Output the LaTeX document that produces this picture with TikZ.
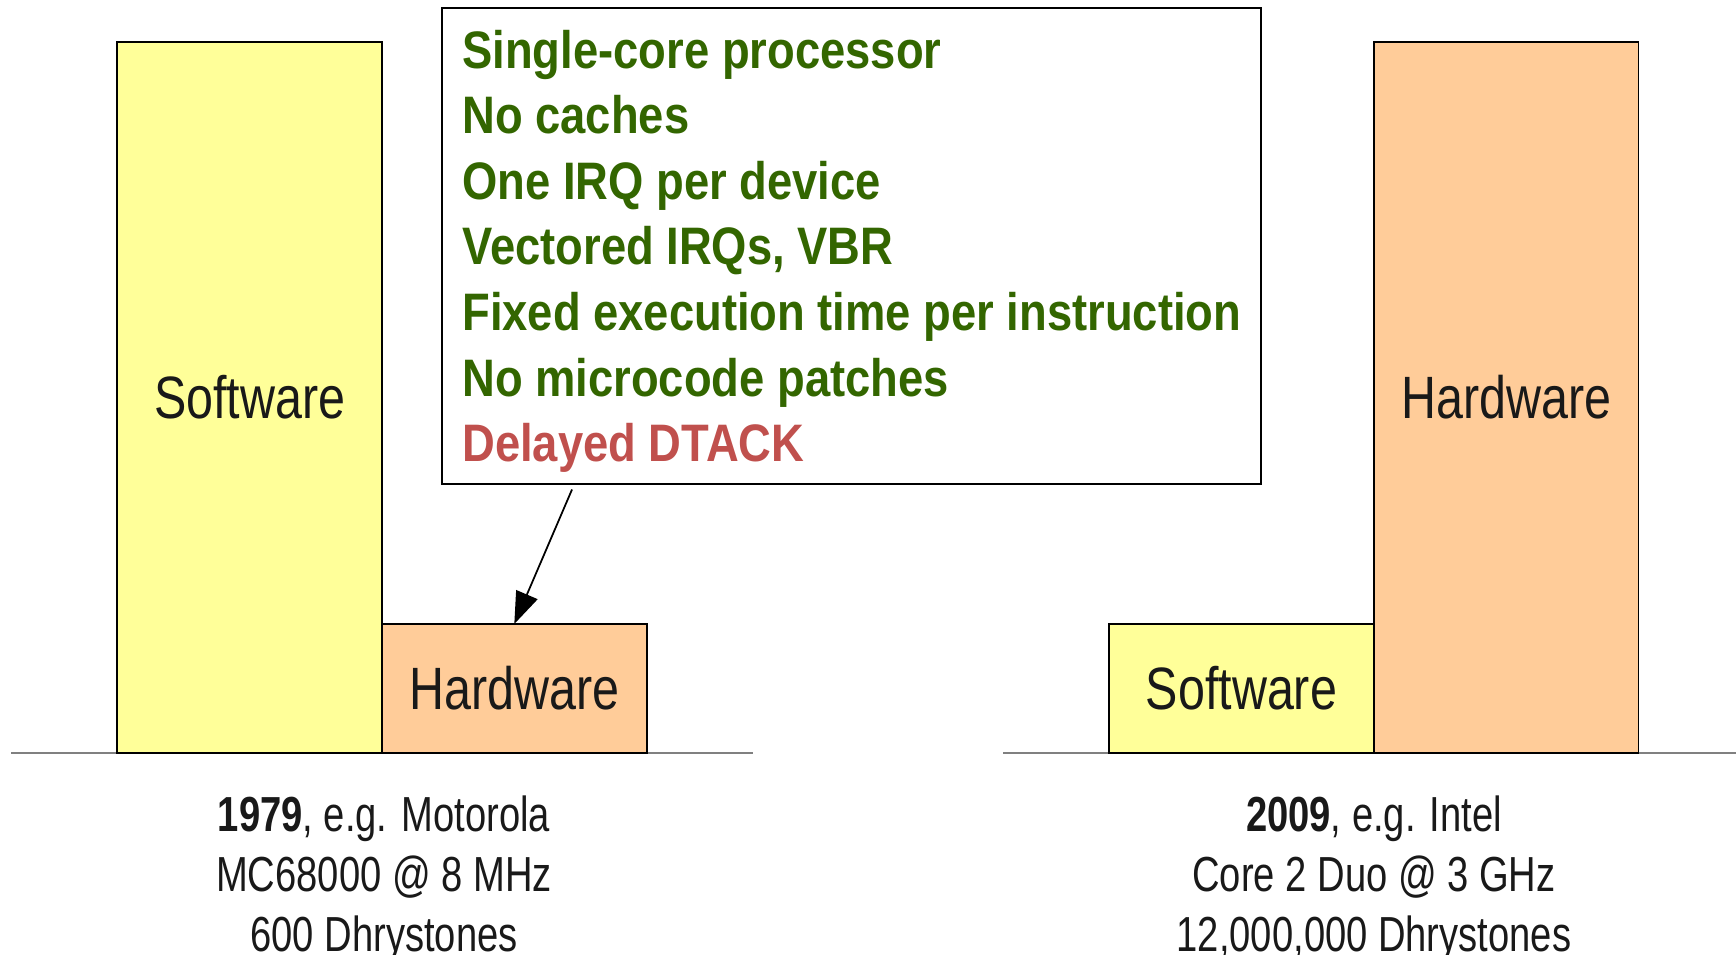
\documentclass[tikz,border=0pt]{standalone}
\usepackage{fontspec}
\setmainfont{Liberation Sans}[FakeStretch=0.81]
\newfontfamily\itemfont{Liberation Sans}[FakeStretch=0.86]
\newfontfamily\capfont{Liberation Sans}[FakeStretch=0.775]
\usetikzlibrary{arrows.meta,calc}

\definecolor{swYellow}{HTML}{FFFF99}
\definecolor{hwOrange}{HTML}{FFCC99}
\definecolor{okGreen}{HTML}{336600}
\definecolor{badRed}{HTML}{C0504D}

\begin{document}
\begin{tikzpicture}[
    x=0.01cm, y=-0.01cm,
    bar/.style={draw=black, line width=0.5pt, inner sep=0pt, outer sep=0pt,
        minimum width=2.646cm, text=black!90,
        font=\fontsize{17pt}{20pt}\selectfont},
    tallbar/.style={bar, minimum height=7.11cm},
    lowbar/.style={bar, minimum height=1.29cm},
    item/.style={anchor=base west, inner sep=0pt, text=okGreen,
        font=\itemfont\bfseries\fontsize{15pt}{18pt}\selectfont},
    caption/.style={anchor=base, align=center, inner sep=0pt, text=black!90,
        font=\capfont\fontsize{14pt}{17.07pt}\selectfont},
    floor/.style={draw=black!50, line width=0.7pt},
]
\useasboundingbox (0,0) rectangle (1736,954);

% Ground lines
\draw[floor] (11,753) -- (753,753);
\draw[floor] (1003,753) -- (1736,753);

% 1979: mostly software
\node[tallbar, fill=swYellow] (swA) at (249.7,397.5) {Software};
\node[lowbar, fill=hwOrange] (hwA) at (514.3,688.5) {Hardware};

% 2009: mostly hardware
\node[lowbar, fill=swYellow] (swB) at (1241.5,688.5) {Software};
\node[tallbar, fill=hwOrange] (hwB) at (1506.2,397.5) {Hardware};

% Callout with the list
\node[draw=black, line width=0.6pt, inner sep=0pt,
    minimum width=8.19cm, minimum height=4.763cm] (note) at (851.5,245.85) {};
\foreach \txt [count=\i from 0] in {Single-core processor, No caches,
    One IRQ per device, {Vectored IRQs, VBR},
    Fixed execution time per instruction, No microcode patches} {
    \node[item] (item\i) at (461.7, 68+65.6*\i) {\txt};
}
\node[item, text=badRed] (item6) at (461.7, 461.7) {Delayed DTACK};

\coordinate (tail) at ($(note.south west)+(131.3,4.3)$);
\draw[-{Triangle[length=3.2mm, width=2.3mm]}, line width=0.5pt]
    (tail) -- (hwA.north);

% Captions (base = last line)
\node[caption] (capA) at (384,951.7)
    {\textbf{1979}, e.g. Motorola\\MC68000 @ 8 MHz\\600 Dhrystones};
\node[caption] (capB) at (1374,951.7)
    {\textbf{2009}, e.g. Intel\\Core 2 Duo @ 3 GHz\\12,000,000 Dhrystones};

\end{tikzpicture}
\end{document}
